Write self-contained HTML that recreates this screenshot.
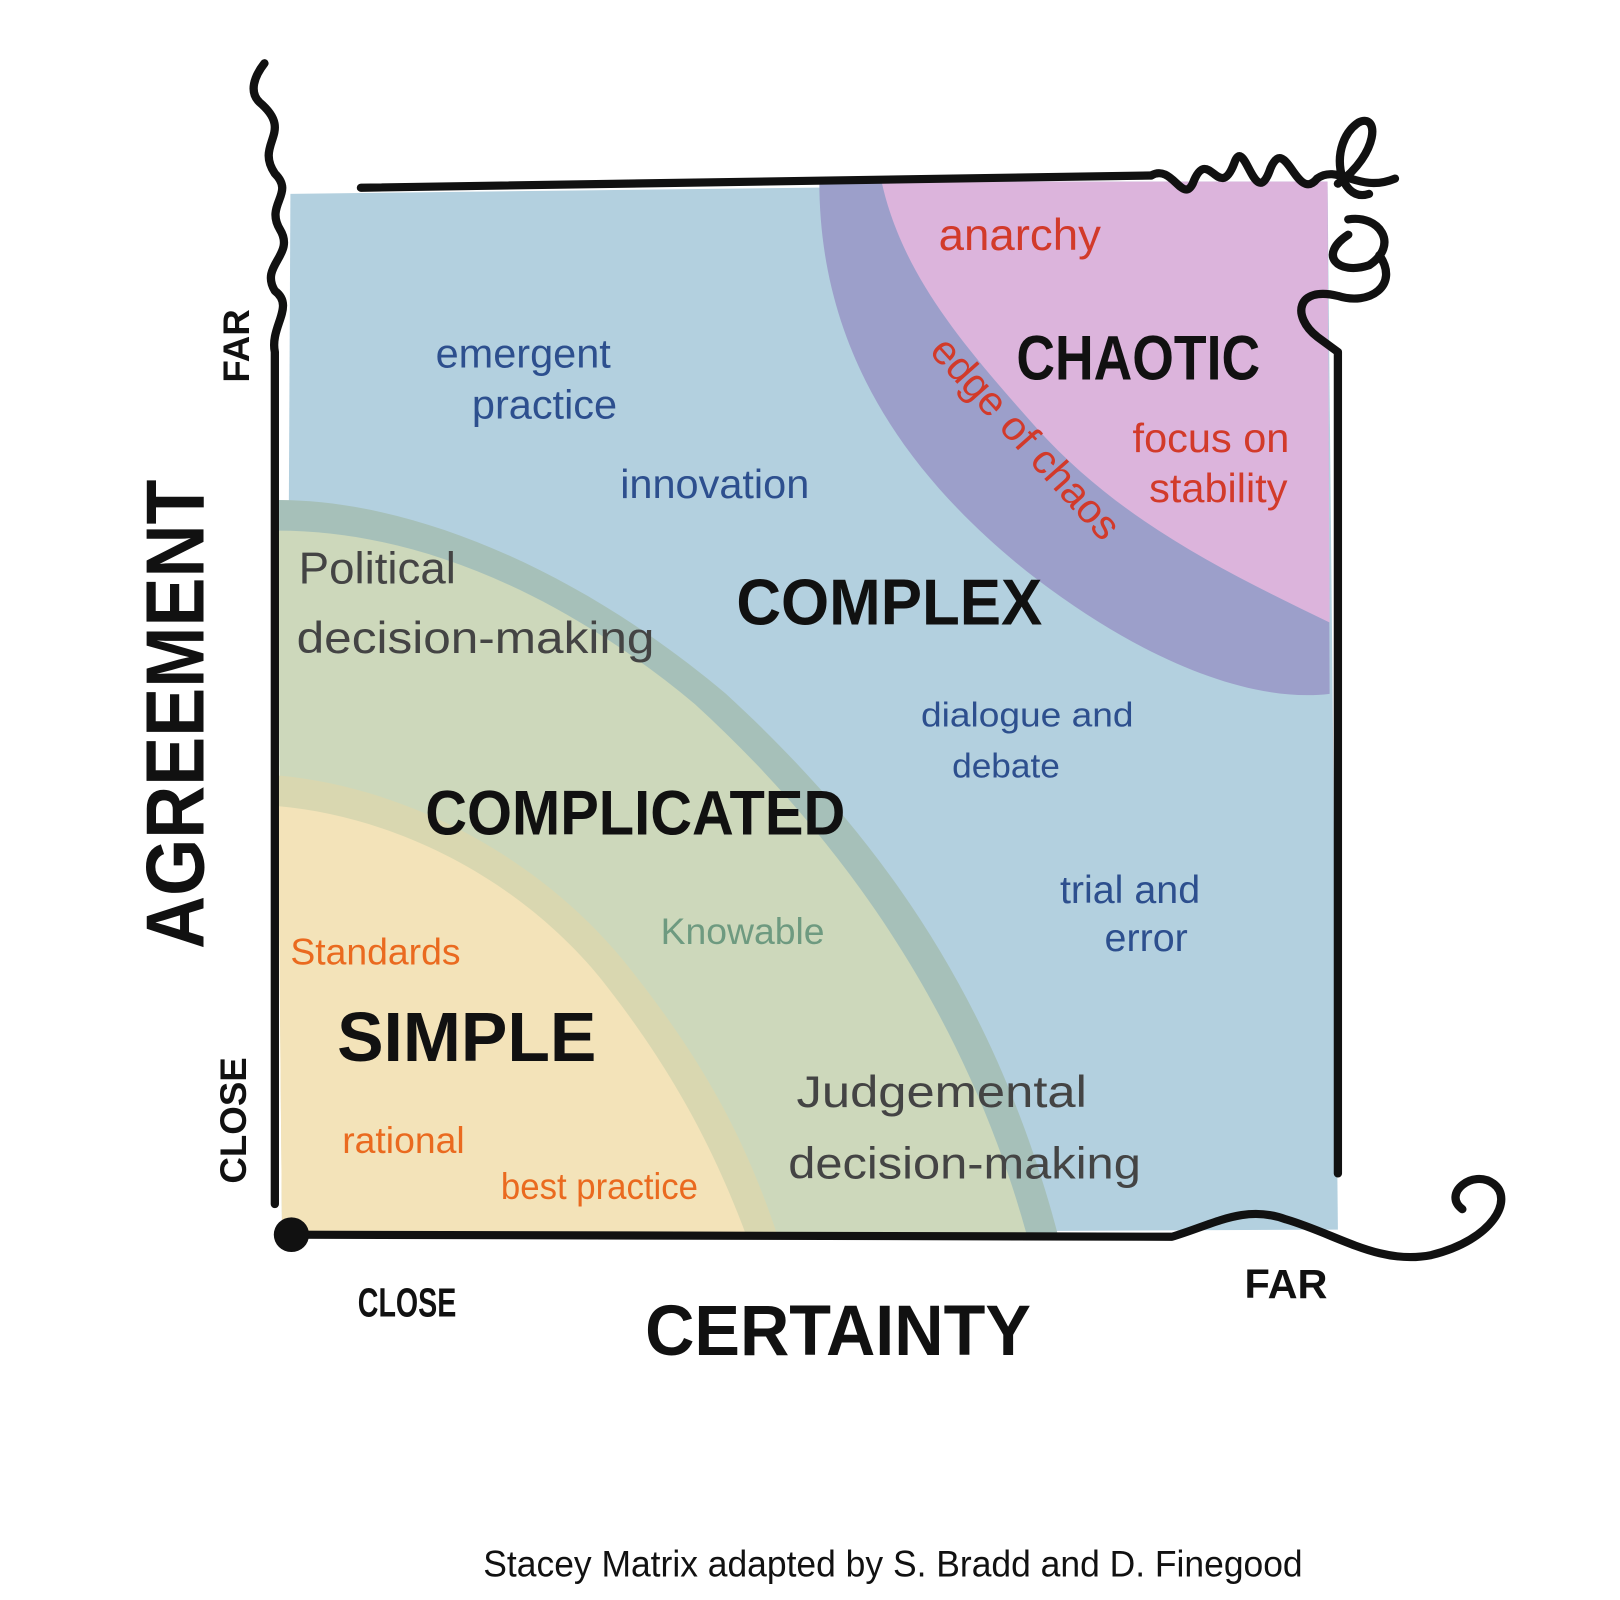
<!DOCTYPE html>
<html><head><meta charset="utf-8"><style>
html,body{margin:0;padding:0;background:#fff;}
svg{display:block}
text{font-family:"Liberation Sans",sans-serif;}
</style></head><body>
<svg width="1620" height="1600" viewBox="0 0 1562 1568" preserveAspectRatio="none" xmlns="http://www.w3.org/2000/svg">
<path d="M280,190 L1280,178 L1290,1205 L275,1210 Z" fill="#b3d0df"/>
<path d="M790,178 L1280,178 L1282,680 C1200,690 1090,640 990,560 C880,470 790,350 790,178 Z" fill="#9c9fca"/>
<path d="M850,178 L1280,178 L1282,610 C1180,560 1080,510 1000,420 C930,340 870,270 850,178 Z" fill="#dcb4dc"/>
<path d="M268,490 C400,490 560,560 700,680 C850,820 960,980 1020,1210 L272,1212 Z" fill="#a6c0b9"/>
<path d="M268,520 C400,520 540,580 670,690 C810,820 930,990 990,1210 L272,1212 Z" fill="#cdd8bb"/>
<path d="M268,760 C380,770 510,830 600,940 C680,1040 720,1120 750,1212 L272,1212 Z" fill="#d9d7b0"/>
<path d="M268,790 C380,800 500,860 580,960 C650,1050 690,1130 720,1212 L272,1212 Z" fill="#f3e3b9"/>
<g fill="none" stroke="#111" stroke-width="8" stroke-linecap="round" stroke-linejoin="round">
<path d="M348,184 L1110,172"/>
<path d="M1110,172 C1130,160 1140,200 1150,180 C1165,140 1175,200 1190,160 C1200,130 1210,210 1225,165 C1240,130 1250,200 1270,175 C1290,160 1310,190 1345,175"/>
<path d="M1290,180 C1330,150 1330,110 1310,120 C1280,140 1290,200 1320,190 M1300,230 C1270,250 1290,270 1320,260 C1350,240 1330,210 1300,215"/>
<path d="M1330,250 C1350,280 1320,300 1290,290 C1250,280 1245,310 1270,330 L1290,345 L1290,1150"/>
<path d="M265,1180 L265,345 C260,320 285,300 265,285 C250,260 285,250 270,225 C255,200 285,190 265,170 C245,140 285,130 250,100 C240,90 245,75 255,62"/>
<path d="M280,1210 L1130,1212 C1170,1200 1200,1180 1240,1195 C1290,1210 1330,1240 1380,1230 C1440,1215 1460,1175 1440,1160 C1420,1145 1390,1170 1410,1185"/>
</g>
<circle cx="281" cy="1210" r="17" fill="#111"/>
<g font-weight="bold">
<text x="980" y="372" font-size="62" fill="#111" textLength="235" lengthAdjust="spacingAndGlyphs">CHAOTIC</text>
<text x="710" y="612" font-size="64" fill="#111" textLength="295" lengthAdjust="spacingAndGlyphs">COMPLEX</text>
<text x="410" y="818" font-size="62" fill="#111" textLength="405" lengthAdjust="spacingAndGlyphs">COMPLICATED</text>
<text x="325" y="1040" font-size="68" fill="#111" textLength="250" lengthAdjust="spacingAndGlyphs">SIMPLE</text>
</g>
<g font-size="44" fill="#d23a2a">
<text x="905" y="245">anarchy</text>
<text x="1092" y="443" font-size="40">focus on</text>
<text x="1108" y="492" font-size="40">stability</text>
<text x="0" y="0" font-size="40" transform="translate(895,345) rotate(48)">edge of chaos</text>
</g>
<g font-size="40" fill="#2d4f8e">
<text x="420" y="360">emergent</text>
<text x="455" y="410">practice</text>
<text x="598" y="488">innovation</text>
<text x="888" y="712" font-size="34" textLength="205" lengthAdjust="spacingAndGlyphs">dialogue and</text>
<text x="918" y="762" font-size="34">debate</text>
<text x="1022" y="885" font-size="38">trial and</text>
<text x="1065" y="932" font-size="38">error</text>
</g>
<g font-size="44" fill="#444">
<text x="288" y="572">Political</text>
<text x="286" y="640" textLength="345" lengthAdjust="spacingAndGlyphs">decision-making</text>
<text x="768" y="1085" textLength="280" lengthAdjust="spacingAndGlyphs">Judgemental</text>
<text x="760" y="1155" textLength="340" lengthAdjust="spacingAndGlyphs">decision-making</text>
</g>
<text x="637" y="925" font-size="36" fill="#6e9a80">Knowable</text>
<g fill="#ea6a1f" font-size="36">
<text x="280" y="945">Standards</text>
<text x="330" y="1130">rational</text>
<text x="483" y="1175" textLength="190" lengthAdjust="spacingAndGlyphs">best practice</text>
</g>
<g fill="#111" font-weight="bold">
<text x="0" y="0" font-size="80" transform="translate(196,930) rotate(-90)" textLength="460" lengthAdjust="spacingAndGlyphs">AGREEMENT</text>
<text x="0" y="0" font-size="36" transform="translate(240,375) rotate(-90)">FAR</text>
<text x="0" y="0" font-size="36" transform="translate(237,1160) rotate(-90)">CLOSE</text>
<text x="345" y="1290" font-size="40" textLength="95" lengthAdjust="spacingAndGlyphs">CLOSE</text>
<text x="1200" y="1272" font-size="40">FAR</text>
<text x="622" y="1328" font-size="70" textLength="372" lengthAdjust="spacingAndGlyphs">CERTAINTY</text>
</g>
<text x="466" y="1545" font-size="36" fill="#111" textLength="790" lengthAdjust="spacingAndGlyphs">Stacey Matrix adapted by S. Bradd and D. Finegood</text>
</svg>
</body></html>
